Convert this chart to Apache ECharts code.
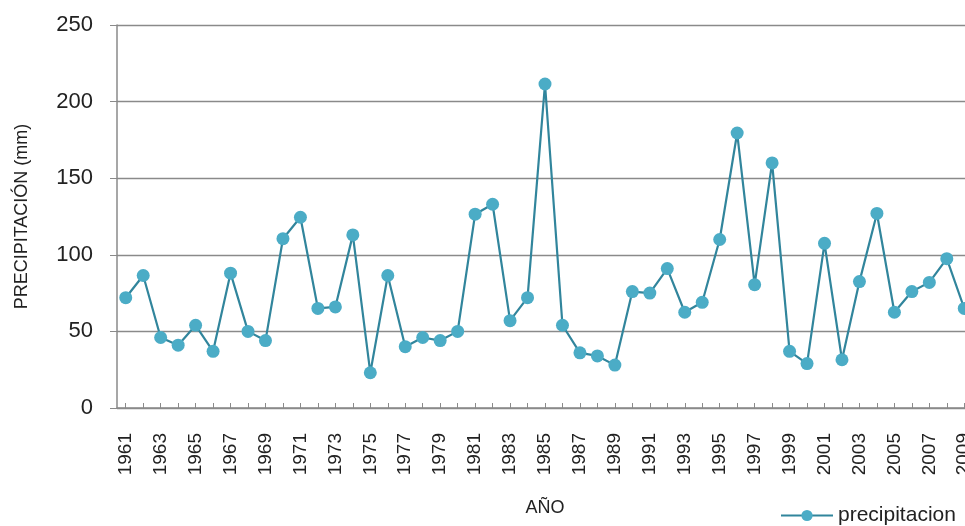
<!DOCTYPE html>
<html><head><meta charset="utf-8">
<script src="https://cdn.jsdelivr.net/npm/echarts@6/dist/echarts.min.js"></script>
<style>html,body{margin:0;padding:0;background:#fff}#c{width:965px;height:526px}</style>
</head><body><div id="c"></div>
<script>
const years = [];
for (let y = 1961; y <= 2009; y++) years.push(String(y));
const precipitacion = [72,86.5,46,41,54,37,88,50,44,110.5,124.5,65,66,113,23,86.5,40,46,44,50,126.5,133,57,72,211.5,54,36,34,28,76,75,91,62.5,69,110,179.5,80.5,160,37,29,107.5,31.5,82.5,127,62.5,76,82,97.5,65];
const yTicks = {min:0, max:250, interval:50};
const seriesName = 'precipitacion';
const font = 'Liberation Sans';
const chart = echarts.init(document.getElementById('c'));
chart.setOption({
  animation:false,
  textStyle:{fontFamily:font},
  grid:{left:117, width:856, top:25, bottom:118, containLabel:false, outerBoundsMode:'none'},
  legend:{left:775, top:500, itemWidth:52, itemHeight:14, itemGap:5,
    textStyle:{fontSize:21, color:'#222', fontFamily:font},
    data:[{name:seriesName}]},
  xAxis:{type:'category', data:years, boundaryGap:true,
    name:'AÑO', nameLocation:'middle', nameGap:91,
    nameTextStyle:{fontSize:18, color:'#222'},
    axisLine:{lineStyle:{color:'#8a8a8a', width:1.5}},
    axisTick:{show:true, inside:true, length:5, alignWithLabel:true, interval:0, lineStyle:{color:'#8a8a8a'}},
    axisLabel:{interval:1, rotate:90, fontSize:19, color:'#222', margin:25, hideOverlap:false}},
  yAxis:{type:'value', min:yTicks.min, max:yTicks.max, interval:yTicks.interval,
    name:'PRECIPITACIÓN (mm)', nameLocation:'middle', nameGap:86,
    nameTextStyle:{fontSize:18, color:'#222'},
    axisLine:{show:true, lineStyle:{color:'#8a8a8a', width:1.5}},
    axisTick:{show:true, length:7, lineStyle:{color:'#8a8a8a'}},
    axisLabel:{fontSize:22, color:'#222', margin:24},
    splitLine:{lineStyle:{color:'#8a8a8a', width:1.3}}},
  series:[{name:seriesName, type:'line', data:precipitacion,
    symbol:'circle', symbolSize:13, showAllSymbol:true,
    lineStyle:{color:'#31859c', width:2.2},
    itemStyle:{color:'#4bacc6'}}]
});
</script></body></html>
